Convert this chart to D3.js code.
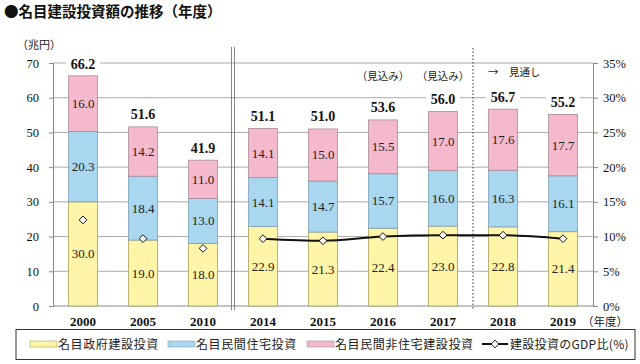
<!DOCTYPE html>
<html><head><meta charset="utf-8">
<script src="https://cdn.jsdelivr.net/npm/d3@7/dist/d3.min.js"></script>
<style>body{margin:0;background:#fff}</style>
</head><body>
<svg id="c" width="640" height="364"></svg>
<script>
const years = ["2000","2005","2010","2014","2015","2016","2017","2018","2019"];
const gov = [30.0,19.0,18.0,22.9,21.3,22.4,23.0,22.8,21.4];
const res = [20.3,18.4,13.0,14.1,14.7,15.7,16.0,16.3,16.1];
const nonres = [16.0,14.2,11.0,14.1,15.0,15.5,17.0,17.6,17.7];
const totals = [66.2,51.6,41.9,51.1,51.0,53.6,56.0,56.7,55.2];
const gdp = [12.4,9.7,8.3,9.7,9.4,10.0,10.2,10.2,9.7];
const leftTicks = [0,10,20,30,40,50,60,70];
const rightTicks = [0,5,10,15,20,25,30,35];
const seriesNames = ["名目政府建設投資","名目民間住宅投資","名目民間非住宅建設投資","建設投資のGDP比(%)"];
const colors = ["#FFF5A8","#A9D7EF","#F5B9CE"];
const strokes = ["#A89F5A","#7E9FB3","#A88A96"];

const svg = d3.select("#c");
const L=53,R=593,T=63,B=306;
const serif = "'Liberation Serif','DejaVu Serif',serif";
const jp = "'Noto Sans CJK JP',sans-serif";
const x = d3.scaleBand().domain(years).range([L,R]).paddingInner(0.52).paddingOuter(0.26);
const y = d3.scaleLinear().domain([0,70]).range([B,T]);
const yr = d3.scaleLinear().domain([0,35]).range([B,T]);

// title
svg.append("text").attr("x",4).attr("y",17).attr("font-family",jp).attr("font-weight","bold")
  .attr("font-size",14.5).attr("fill","#111").text("●名目建設投資額の推移（年度）");
svg.append("text").attr("x",17).attr("y",49).attr("font-family",jp).attr("font-size",11).attr("fill","#222").text("（兆円）");

// grid
svg.append("g").selectAll("line").data(leftTicks.slice(1)).join("line")
  .attr("x1",L).attr("x2",R).attr("y1",d=>y(d)).attr("y2",d=>y(d))
  .attr("stroke","#aaa").attr("stroke-width",1);

// left axis
const la = svg.append("g").attr("transform",`translate(${L},0)`)
  .call(d3.axisLeft(y).tickValues(leftTicks).tickSize(4).tickPadding(10));
la.select(".domain").attr("stroke","#888");
la.selectAll(".tick line").attr("stroke","#888");
la.selectAll("text").attr("font-family",serif).attr("font-size",12.5).attr("fill","#111");

// right axis
const ra = svg.append("g").attr("transform",`translate(${R},0)`)
  .call(d3.axisRight(yr).tickValues(rightTicks).tickFormat(d=>d+"%").tickSize(5).tickPadding(5));
ra.select(".domain").attr("stroke","#888");
ra.selectAll(".tick line").attr("stroke","#888");
ra.selectAll("text").attr("font-family",serif).attr("font-size",12.5).attr("fill","#111");

// bottom axis line
svg.append("line").attr("x1",L).attr("x2",R).attr("y1",B).attr("y2",B).attr("stroke","#888");

// bars
const stackData = years.map((yv,i)=>({year:yv,gov:gov[i],res:res[i],nonres:nonres[i]}));
const stack = d3.stack().keys(["gov","res","nonres"])(stackData);
stack.forEach((s,k)=>{
  svg.append("g").selectAll("rect").data(s).join("rect")
    .attr("x",d=>x(d.data.year)).attr("width",x.bandwidth())
    .attr("y",d=>y(d[1])).attr("height",d=>y(d[0])-y(d[1]))
    .attr("fill",colors[k]).attr("stroke",strokes[k]).attr("stroke-width",0.8);
  svg.append("g").selectAll("text").data(s).join("text")
    .attr("x",d=>x(d.data.year)+x.bandwidth()/2).attr("y",d=>(y(d[0])+y(d[1]))/2+4.5)
    .attr("text-anchor","middle").attr("font-family",serif).attr("font-size",13).attr("fill","#222")
    .text(d=>(d[1]-d[0]).toFixed(1));
});

// separators
const sep1 = (x("2010")+x.bandwidth()+x("2014"))/2;
[sep1-1.5,sep1+1.5].forEach(xx=>svg.append("line").attr("x1",xx).attr("x2",xx).attr("y1",47).attr("y2",310).attr("stroke","#666").attr("stroke-width",0.8));
const sep2 = (x("2017")+x.bandwidth()+x("2018"))/2;
svg.append("line").attr("x1",sep2).attr("x2",sep2).attr("y1",48).attr("y2",310).attr("stroke","#333").attr("stroke-width",1).attr("stroke-dasharray","1.5,2");

// totals
const tg = svg.append("g").selectAll("g").data(years).join("g");
tg.append("rect").attr("x",d=>x(d)+x.bandwidth()/2-17).attr("width",34)
  .attr("y",(d,i)=>y(totals[i])-20).attr("height",14).attr("fill","#fff");
tg.append("text").attr("x",d=>x(d)+x.bandwidth()/2).attr("y",(d,i)=>y(totals[i])-7.5)
  .attr("text-anchor","middle").attr("font-family",serif).attr("font-weight","bold").attr("font-size",14).attr("fill","#111")
  .text((d,i)=>totals[i].toFixed(1));

// notes
["2016","2017"].forEach(yv=>svg.append("text").attr("x",x(yv)+x.bandwidth()/2).attr("y",80)
  .attr("text-anchor","middle").attr("font-family",jp).attr("font-size",10.5).attr("fill","#222").text("（見込み）"));
svg.append("text").attr("x",488).attr("y",76).attr("font-family",jp).attr("font-size",10.5).attr("fill","#222").text("→　見通し");

// gdp line (2014-)
const cx = d=>x(d)+x.bandwidth()/2;
const lineIdx = [3,4,5,6,7,8];
svg.append("path").datum(lineIdx)
  .attr("d",d3.line().x(i=>cx(years[i])).y(i=>yr(gdp[i])).curve(d3.curveMonotoneX))
  .attr("fill","none").attr("stroke","#111").attr("stroke-width",2);
const diamond = d3.symbol().type(d3.symbolDiamond2).size(38);
svg.append("g").selectAll("path").data(years).join("path")
  .attr("d",diamond).attr("transform",(d,i)=>`translate(${cx(d)},${yr(gdp[i])})`)
  .attr("fill","#fff").attr("stroke","#111").attr("stroke-width",1);

// year labels
svg.append("g").selectAll("text").data(years).join("text")
  .attr("x",d=>cx(d)).attr("y",326).attr("text-anchor","middle")
  .attr("font-family",serif).attr("font-weight","bold").attr("font-size",13).attr("fill","#111").text(d=>d);
svg.append("text").attr("x",582).attr("y",326).attr("font-family",jp).attr("font-size",11.5).attr("fill","#222").text("（年度）");

// legend
svg.append("rect").attr("x",16).attr("y",329.5).attr("width",619).attr("height",30).attr("fill","#fff").attr("stroke","#333").attr("stroke-width",1);
const lx = [30,168,307];
lx.forEach((xx,k)=>{
  svg.append("rect").attr("x",xx).attr("y",341).attr("width",27).attr("height",6).attr("fill",colors[k]).attr("stroke",strokes[k]).attr("stroke-width",0.6);
  svg.append("text").attr("x",xx+28).attr("y",349).attr("font-family",jp).attr("font-size",12).attr("letter-spacing",0.6).attr("fill","#222").text(seriesNames[k]);
});
svg.append("line").attr("x1",482).attr("x2",508).attr("y1",344).attr("y2",344).attr("stroke","#111").attr("stroke-width",2);
svg.append("path").attr("d",diamond).attr("transform","translate(495,344)").attr("fill","#fff").attr("stroke","#111");
svg.append("text").attr("x",510).attr("y",349).attr("font-family",jp).attr("font-size",12).attr("letter-spacing",0.3).attr("fill","#222").text(seriesNames[3]);
</script>
</body></html>
